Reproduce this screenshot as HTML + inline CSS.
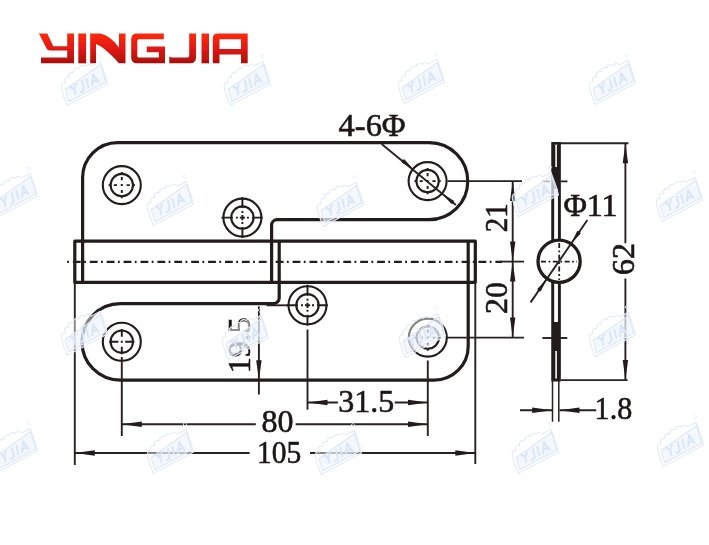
<!DOCTYPE html>
<html><head><meta charset="utf-8">
<style>
html,body{margin:0;padding:0;background:#fff;}
body{width:709px;height:545px;overflow:hidden;font-family:"Liberation Serif",serif;}
svg{display:block;position:absolute;left:0;top:0;}
text{font-family:"Liberation Serif",serif;fill:#1c1515;}
</style></head><body>
<svg width="709" height="545" viewBox="0 0 709 545">
<defs>
<filter id="soft" x="-2%" y="-2%" width="104%" height="104%"><feGaussianBlur stdDeviation="0.45"/></filter>
<linearGradient id="lg" x1="0" y1="0" x2="0" y2="1">
<stop offset="0" stop-color="#fb2a10"/><stop offset="0.5" stop-color="#e01a12"/><stop offset="1" stop-color="#a90f10"/>
</linearGradient>
<g id="wm" transform="translate(0,-2.5) rotate(-28)">
<path d="M-24,2 L-22,-7 Q-20,-12 -16.5,-9.5 Q-15,-15.5 -11,-12.5 Q-8.5,-18 -4.5,-14.5 Q-1.5,-19.5 2.5,-15.5 Q6,-19 9.5,-14.5 Q13,-16.5 15,-12 L24.5,-12 L22.5,3 L20.5,11.5 L-25,11.5 Z" fill="#ffffff" fill-opacity="0.45" stroke="#e2ebf9" stroke-width="1.1"/>
<path d="M-22,9 L-19.5,-3.5 L23.5,-9 L20,9 Z" fill="#eaf1fc" fill-opacity="0.5" stroke="#dbe6f8" stroke-width="1"/>
<g transform="skewX(-14)" fill="none" stroke="#d9e5f8" stroke-width="2" stroke-linejoin="round">
<path d="M-14.5,-4 L-11.2,0.5 L-7.8,-4 M-11.2,0.5 V6"/>
<path d="M-1.5,-4 V3.5 Q-1.5,6 -4,6 H-6"/>
<path d="M3.5,-4 V6"/>
<path d="M7.5,6 L11.2,-4 L15,6 M9,2.8 H13.5"/>
</g>
<circle cx="26" cy="-17" r="1.6" fill="none" stroke="#e6eefa" stroke-width="0.8"/>
</g>
<g id="hole" fill="none" stroke="#231b1b">
<circle r="19" stroke-width="2.1"/>
<circle r="11.2" stroke-width="2.1"/>
</g>
<path id="hc1" fill="none" stroke="#231b1b" stroke-width="1.9" d="M-13.2,0H-10.5M-8,0H-4.8M-1,0H1M4.8,0H8M10.5,0H13.2M0,-13.2V-10.5M0,-8V-4.8M0,-1V1M0,4.8V8M0,10.5V13.2"/>
<path id="hc4" fill="none" stroke="#231b1b" stroke-width="1.9" d="M-12.6,0H-3.4M-1,0H1M3.4,0H12.6M0,-12.6V-5M0,-1V1M0,5V12.6"/>
<path id="hcx" fill="none" stroke="#231b1b" stroke-width="1.9" d="M-21,0H-9.5M-6.5,0H-4.5M-2.6,0H2.6M4.5,0H6.5M9.5,0H20.3M0,-20.5V-9.5M0,-6.5V-4.5M0,-2.6V2.6M0,4.5V6.5M0,9.5V20.5"/>
<path id="ah" d="M0,0 L20,-2.7 L20,2.7 Z" fill="#231b1b"/>
<path id="ahs" d="M0,0 L13,-2.1 L15,0 L13,2.1 Z" fill="#231b1b"/>
</defs>
<rect width="709" height="545" fill="#fff"/>


<g filter="url(#soft)">
<!-- logo -->
<g id="logo" fill="url(#lg)">
<path d="M38.9,33.5 L47.3,33.5 L53.3,46.2 L67.2,46.2 L67.2,33.5 L74,33.5 L74,63.3 L41,63.3 L41,57.6 L67.2,57.6 L67.2,50.6 L49.9,50.6 Q47.5,50.6 46.3,48 Z"/>
<rect x="78.3" y="33.5" width="7.8" height="29.8"/>
<path d="M90.2,33.5 L100.4,33.5 Q111,36 119,47.5 L119,33.5 L125.5,33.5 L125.5,63.3 L119,63.3 Q104,47 96,44.1 L96,63.3 L90.2,63.3 Z"/>
<path d="M163.8,33.5 L163.8,39.3 L139,39.3 Q137.3,39.3 137.3,41 L137.3,56 Q137.3,57.6 139,57.6 L158.9,57.6 L158.9,52.3 L146.7,52.3 L146.7,46.6 L165,46.6 L165,63.3 L137,63.3 Q131.2,63.3 131.2,57.5 L131.2,39.3 Q131.2,33.5 137,33.5 Z"/>
<path d="M189.2,33.5 L196,33.5 L196,57.3 Q196,63.3 190,63.3 L169.3,63.3 L169.3,56.6 L171.5,57.4 L187.5,57.4 Q189.2,57.4 189.2,55.8 Z"/>
<rect x="201.5" y="33.5" width="7.5" height="29.8"/>
<path d="M217.5,33.5 L247.7,33.5 L247.7,63.3 L241,63.3 L241,54.5 L219.5,54.5 L219.5,63.3 L212.8,63.3 L212.8,38.2 Q212.8,33.5 217.5,33.5 Z M219.5,39.3 L219.5,48.9 L241,48.9 L241,39.3 Z" fill-rule="evenodd"/>
</g>

<!-- main drawing thick lines -->
<g id="thick" fill="none" stroke="#231b1b" stroke-width="3.2" stroke-linejoin="round">
<!-- top plate -->
<path d="M82.6,282.3 L82.6,177.6 A35,35 0 0 1 117.6,142.6 L429.2,142.6 A38.55,38.55 0 0 1 429.2,219.7 L277.2,219.7 A5.6,5.6 0 0 0 271.6,225.3 L271.6,282.3"/>
<!-- pin -->
<rect x="74.8" y="241.1" width="400.5" height="41.2"/>
<!-- lower plate -->
<path d="M279.2,241.1 L279.2,298 A5.6,5.6 0 0 1 273.6,303.6 L120.3,303.6 A38.3,38.3 0 0 0 120.3,380.2 L434.2,380.2 A34,34 0 0 0 468.2,346.2 L468.2,241.1"/>
</g>
<!-- center line -->
<path d="M67.2,261.8 H502" stroke="#231b1b" stroke-width="2.2" stroke-dasharray="1.8 3.9 7.8 3.4" fill="none"/>
<path d="M500,261.6H524" stroke="#2d2323" stroke-width="1.8" fill="none"/>

<!-- holes -->
<use href="#hole" x="121.8" y="185.1"/><use href="#hc1" x="121.8" y="185.1"/>
<use href="#hole" x="242.4" y="217.6"/><use href="#hcx" x="242.4" y="217.6"/>
<use href="#hole" x="427.6" y="181.1"/><use href="#hc1" x="427.6" y="181.1"/>
<use href="#hole" x="121.8" y="341.7"/><use href="#hc4" x="121.8" y="341.7"/>
<use href="#hole" x="307.5" y="305.3"/><use href="#hcx" x="307.5" y="305.3"/>
<use href="#hole" x="427.8" y="337.6"/><use href="#hc1" x="427.8" y="337.6"/>

<!-- side view -->
<g id="side" fill="none" stroke="#231b1b">
<path d="M552.7,380V143.4H559.4V380Z" stroke-width="2.9"/>
<rect x="553.5" y="167" width="5" height="22" fill="#231b1b" stroke="none"/>
<path d="M554.6,145V168M557.6,145V168M554.6,350V379M557.6,350V379" stroke-width="1.4"/>
<rect x="553.5" y="322" width="5" height="29" fill="#231b1b" stroke="none"/>
<circle cx="559.1" cy="261.3" r="21.1" stroke-width="3.3" fill="#fff"/>
<path d="M541,261.6H577M559.2,243V280" stroke-width="1.8" stroke-dasharray="5 2.5 1.8 2.5"/>
</g>

<!-- thin dimension lines -->
<g id="thin" fill="none" stroke="#2a2020" stroke-width="1.9">
<path d="M447.6,181.1H522"/>
<path d="M542.5,181.4H550M561,181.4H567.5"/>
<path d="M512.7,181.1V337.6"/>
<path d="M447,337.6H524"/>
<path d="M542.4,338H567.3"/>
<path d="M266.5,305.3H288"/>
<path d="M258.9,306.4V394.5"/>
<path d="M121.8,357V436"/>
<path d="M307.5,329.5V409.7"/>
<path d="M427.8,360.5V436"/>
<path d="M74.8,282V465"/>
<path d="M475.3,282V464"/>
<!-- 31.5 -->
<path d="M307.5,402.5H337.9M394.7,402.5H428"/>
<!-- 80 -->
<path d="M121.8,424.2H255.8M295.6,424.2H428"/>
<!-- 105 -->
<path d="M74.8,453H249.6M310,453H475.3"/>
<!-- 62 -->
<path d="M560,143.3H628.4M561,380.1H627.6"/>
<path d="M625.4,143.3V243.3M625.4,278.6V380.1"/>
<!-- 1.8 -->
<path d="M552.5,381V421.7M558.8,381V421.7" stroke-width="1.5"/>
<path d="M520,410.3H552M559.5,410.3H596.2"/>
<!-- leaders -->
<path d="M381.6,144L455.9,205.1"/>
<path d="M587.4,220L530.6,302.4"/>
</g>

<!-- arrows -->
<g id="arrows">
<use href="#ah" transform="translate(512.7,181.1) rotate(90)"/>
<use href="#ah" transform="translate(512.7,261.5) rotate(-90)"/>
<use href="#ah" transform="translate(512.7,261.5) rotate(90)"/>
<use href="#ah" transform="translate(512.7,337.6) rotate(-90)"/>
<use href="#ah" transform="translate(258.9,380.2) rotate(-90)"/>
<use href="#ah" transform="translate(307.5,402.5)"/>
<use href="#ah" transform="translate(428,402.5) rotate(180)"/>
<use href="#ah" transform="translate(121.8,424.2)"/>
<use href="#ah" transform="translate(428,424.2) rotate(180)"/>
<use href="#ah" transform="translate(74.8,453)"/>
<use href="#ah" transform="translate(475.3,453) rotate(180)"/>
<use href="#ah" transform="translate(625.4,143.3) rotate(90)"/>
<use href="#ah" transform="translate(625.4,380.1) rotate(-90)"/>
<use href="#ah" transform="translate(552.2,410.3) rotate(180)"/>
<use href="#ah" transform="translate(559.5,410.3)"/>
<use href="#ahs" transform="translate(413.3,169.3) rotate(219.4)"/>
<use href="#ahs" transform="translate(442.5,194) rotate(39.4)"/>
<use href="#ahs" transform="translate(571.4,243.2) rotate(-55.4)"/>
<use href="#ahs" transform="translate(546.6,279.2) rotate(124.6)"/>
</g>

<!-- text -->
<g id="txt" font-size="32" stroke="#1c1515" stroke-width="0.6">
<text x="338.6" y="136.2" textLength="67" lengthAdjust="spacingAndGlyphs">4-6Φ</text>
<text x="563.4" y="216">Φ11</text>
<text transform="translate(507.2,232.3) rotate(-90)" textLength="29.1" lengthAdjust="spacingAndGlyphs">21</text>
<text transform="translate(507.2,314.1) rotate(-90)">20</text>
<text transform="translate(634,275.1) rotate(-90)">62</text>
<text transform="translate(250,373.3) rotate(-90)">19.5</text>
<text x="338.2" y="411.6">31.5</text>
<text x="261.5" y="432.3">80</text>
<text x="257.1" y="462.5" textLength="44.2" lengthAdjust="spacingAndGlyphs">105</text>
<text x="594.6" y="419.3" textLength="37.6" lengthAdjust="spacingAndGlyphs">1.8</text>
</g>
</g>
<!-- watermarks -->
<g id="wms">
<use href="#wm" x="84" y="86"/><use href="#wm" x="247" y="86"/><use href="#wm" x="421" y="84"/><use href="#wm" x="612" y="85"/>
<use href="#wm" x="14" y="198"/><use href="#wm" x="170" y="206"/><use href="#wm" x="340" y="207"/><use href="#wm" x="535" y="197"/><use href="#wm" x="679" y="202"/>
<use href="#wm" x="84" y="336"/><use href="#wm" x="245" y="340"/><use href="#wm" x="422" y="338"/><use href="#wm" x="612" y="337"/>
<use href="#wm" x="14" y="453"/><use href="#wm" x="170" y="454"/><use href="#wm" x="338" y="455"/><use href="#wm" x="535" y="454"/><use href="#wm" x="680" y="447"/>
</g>
</svg>
</body></html>
